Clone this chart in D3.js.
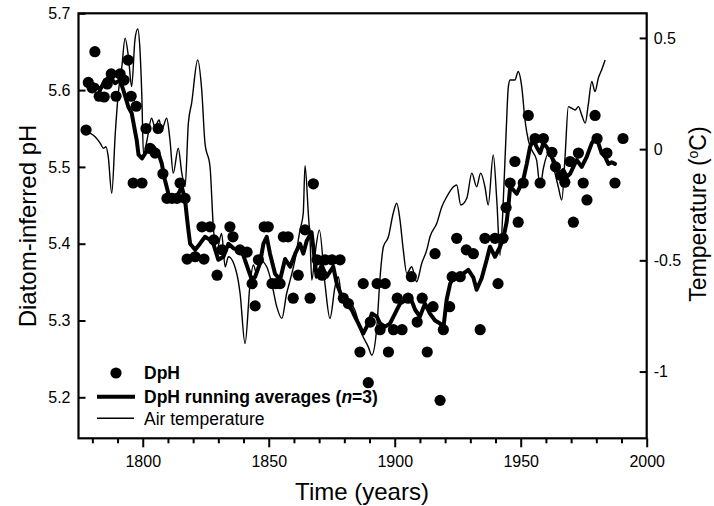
<!DOCTYPE html>
<html>
<head>
<meta charset="utf-8">
<script src="https://cdn.jsdelivr.net/npm/d3@7"></script>
<style>
  html, body { margin: 0; padding: 0; background: #fff; }
  svg { display: block; }
  text { font-family: "Liberation Sans", Arial, Helvetica, sans-serif; fill: #000; }
</style>
</head>
<body>
<svg id="chart" width="714" height="506"></svg>
<script>
// ---------------- DATA ----------------
const dphYears = [1777.5,1778.4,1779.9,1781.0,1782.7,1784.7,1785.9,1787.5,1789.4,1791.0,1792.6,1794.2,1795.4,1796.2,1797.4,1799.7,
  1801.3,1802.9,1804.9,1806.1,1808.0,1809.6,1811.6,1813.6,1814.8,1816.8,1817.6,1820.8,1823.5,1824.3,1826.7,1828.2,1829.5,1831.5,
  1834.6,1835.8,1838.6,1841.4,1843.4,1844.6,1845.9,1848.2,1849.8,1851.3,1852.9,1854.5,1855.8,1857.7,1859.7,1861.7,1864.4,1866.4,
  1867.7,1869.2,1871.2,1872.4,1875.1,1878.3,1879.6,1881.6,1886.2,1887.5,1889.5,1890.3,1893.0,1894.2,1896.2,1897.5,1899.5,1901.0,
  1902.9,1905.3,1906.6,1908.9,1910.9,1912.9,1915.2,1916.0,1918.0,1919.3,1921.8,1922.8,1924.6,1926.0,1928.4,1931.2,1933.9,1935.8,
  1939.8,1941.0,1943.0,1944.2,1945.8,1947.7,1949.0,1951.0,1953.0,1955.7,1957.7,1959.0,1962.4,1963.8,1965.9,1967.5,1969.6,1970.9,
  1972.9,1974.8,1976.3,1979.5,1980.3,1984.2,1987.4,1990.6];
const dphValues = [5.548,5.610,5.603,5.650,5.592,5.591,5.608,5.621,5.592,5.621,5.613,5.639,5.592,5.479,5.579,5.479,
  5.550,5.524,5.518,5.550,5.491,5.459,5.459,5.459,5.479,5.459,5.380,5.383,5.422,5.380,5.422,5.405,5.359,5.392,
  5.422,5.409,5.392,5.389,5.348,5.319,5.379,5.422,5.422,5.348,5.348,5.348,5.409,5.409,5.329,5.359,5.418,5.329,
  5.478,5.379,5.359,5.379,5.379,5.379,5.329,5.322,5.259,5.348,5.219,5.298,5.348,5.288,5.348,5.259,5.288,5.329,
  5.288,5.329,5.357,5.298,5.329,5.259,5.318,5.387,5.196,5.288,5.318,5.357,5.407,5.357,5.392,5.387,5.288,5.407,
  5.407,5.348,5.407,5.447,5.479,5.507,5.428,5.479,5.567,5.537,5.479,5.537,5.519,5.500,5.489,5.480,5.507,5.428,
  5.518,5.479,5.457,5.567,5.537,5.518,5.479,5.537];

const avgYears = [1778.3,1781.7,1783.0,1785.0,1787.0,1789.0,1791.0,1792.3,1794.3,1795.6,1797.6,1798.3,1799.7,1802.2,1804.2,1806.2,
  1807.5,1808.8,1810.2,1811.5,1813.5,1815.5,1816.8,1817.5,1818.1,1818.8,1820.8,1822.7,1824.7,1826.7,1828.0,1830.0,1832.0,1834.0,
  1836.0,1837.9,1839.9,1841.9,1843.3,1844.6,1846.5,1847.9,1849.2,1850.5,1852.5,1854.5,1856.5,1858.5,1860.5,1862.4,1863.7,1865.1,
  1867.0,1869.0,1871.0,1873.0,1875.6,1877.0,1879.0,1881.0,1882.9,1884.2,1885.6,1887.5,1889.5,1890.9,1892.9,1894.2,1896.2,1898.1,
  1900.1,1902.1,1904.1,1906.1,1908.1,1910.0,1912.0,1914.0,1916.0,1918.0,1919.3,1920.6,1922.0,1923.9,1925.9,1927.2,1929.2,1931.2,
  1932.5,1934.5,1936.5,1937.8,1939.8,1941.8,1943.1,1944.4,1945.1,1945.8,1947.1,1948.4,1949.7,1951.0,1952.4,1953.7,1955.0,1956.3,
  1957.7,1959.0,1960.3,1961.6,1962.9,1964.3,1965.6,1966.9,1968.3,1969.6,1970.9,1972.2,1974.2,1976.2,1978.2,1979.5,1980.8,1982.1,
  1983.5,1984.8,1986.1,1987.4];
const avgValues = [5.610,5.606,5.600,5.613,5.617,5.609,5.613,5.600,5.578,5.570,5.535,5.516,5.511,5.524,5.526,5.518,
  5.505,5.483,5.465,5.459,5.461,5.474,5.457,5.435,5.418,5.400,5.392,5.400,5.409,5.405,5.400,5.379,5.383,5.400,
  5.394,5.392,5.385,5.366,5.353,5.357,5.374,5.400,5.409,5.387,5.361,5.353,5.380,5.370,5.387,5.400,5.387,5.404,
  5.415,5.357,5.372,5.357,5.370,5.348,5.331,5.322,5.314,5.305,5.296,5.283,5.296,5.309,5.305,5.296,5.292,5.296,
  5.309,5.322,5.326,5.331,5.314,5.305,5.322,5.309,5.300,5.296,5.290,5.327,5.348,5.359,5.353,5.361,5.366,5.356,
  5.340,5.355,5.379,5.396,5.383,5.396,5.407,5.428,5.448,5.474,5.470,5.465,5.474,5.483,5.504,5.526,5.535,5.526,
  5.518,5.531,5.526,5.518,5.509,5.500,5.491,5.496,5.487,5.491,5.500,5.509,5.500,5.513,5.531,5.537,5.531,5.518,
  5.513,5.504,5.506,5.504];

const tempYears = [1779.1,1781.1,1783.1,1784.4,1785.4,1786.3,1787.7,1789.1,1790.3,1791.7,1793.0,1794.3,1795.6,1796.9,1798.0,1798.9,
  1799.6,1800.3,1801.7,1803.5,1804.8,1806.5,1807.5,1809.5,1810.8,1812.1,1814.1,1815.5,1816.8,1818.1,1819.4,1821.8,1823.4,1824.7,
  1826.7,1828.0,1829.4,1831.3,1832.7,1834.0,1837.3,1838.6,1840.6,1842.6,1843.9,1845.2,1846.5,1849.2,1851.2,1853.2,1855.2,1857.1,
  1858.5,1860.4,1862.4,1863.7,1864.4,1865.7,1866.4,1867.1,1868.4,1870.1,1872.3,1874.3,1876.3,1877.6,1879.0,1881.6,1884.2,1886.9,
  1889.5,1890.9,1892.9,1894.2,1895.5,1897.5,1899.4,1900.8,1902.1,1903.4,1904.8,1906.7,1908.7,1910.7,1912.7,1914.0,1916.7,1918.7,
  1920.8,1923.3,1924.6,1926.2,1928.6,1930.6,1932.5,1934.1,1935.8,1937.1,1939.1,1940.5,1941.8,1943.1,1944.2,1945.1,1945.8,1947.7,
  1949.0,1950.4,1951.7,1953.0,1954.4,1956.3,1957.7,1959.0,1961.0,1962.3,1963.6,1964.9,1966.3,1967.6,1968.9,1970.2,1971.6,1972.9,
  1974.2,1975.6,1976.8,1978.2,1979.5,1980.8,1982.1,1983.5];
const tempValues = [0.072,0.056,0.027,0.004,0.011,-0.034,-0.198,0.072,0.252,0.371,0.499,0.416,0.281,0.491,0.540,0.446,
  0.252,-0.026,0.041,0.139,0.101,0.131,0.086,0.139,0.041,-0.108,0.004,-0.108,-0.169,0.117,0.207,0.401,0.266,0.027,
  -0.079,-0.349,-0.454,-0.379,-0.529,-0.484,-0.559,-0.646,-0.874,-0.604,-0.521,-0.559,-0.499,-0.529,-0.604,-0.709,-0.761,-0.649,
  -0.589,-0.499,-0.364,-0.288,-0.074,-0.288,-0.409,-0.589,-0.469,-0.364,-0.604,-0.761,-0.619,-0.574,-0.664,-0.679,-0.724,-0.829,
  -0.889,-0.926,-0.799,-0.574,-0.439,-0.394,-0.288,-0.243,-0.319,-0.454,-0.559,-0.529,-0.596,-0.514,-0.454,-0.394,-0.333,-0.259,
  -0.211,-0.169,-0.161,-0.251,-0.221,-0.108,-0.169,-0.108,-0.169,-0.251,-0.026,-0.229,-0.477,-0.229,0.072,0.281,0.311,0.311,
  0.349,0.281,0.131,0.041,-0.004,-0.049,-0.169,-0.086,-0.018,-0.049,-0.108,-0.169,-0.229,-0.034,0.191,0.184,0.176,0.191,
  0.154,0.117,0.199,0.304,0.259,0.319,0.356,0.401];

const xMajorTicks = [1800, 1850, 1900, 1950, 2000];
const xMinorTicks = [1780,1790,1810,1820,1830,1840,1860,1870,1880,1890,1910,1920,1930,1940,1960,1970,1980,1990];
const leftTicks = [5.2, 5.3, 5.4, 5.5, 5.6, 5.7];
const rightTicks = [-1, -0.5, 0, 0.5];
const rightTickLabels = ["-1", "-0.5", "0", "0.5"];

// ---------------- CHART ----------------
const svg = d3.select("#chart");
const L = 78.5, R = 646.7, T = 13.3, B = 438.3;

const x = d3.scaleLinear().domain([1774.5, 2000]).range([L, R]);
const yL = d3.scaleLinear().domain([5.1466, 5.7]).range([B, T]);
const yR = d3.scaleLinear().domain([-1.3, 0.6107]).range([B, T]);

const dph = dphYears.map((yr, i) => ({ yr, v: dphValues[i] }));
const avg = avgYears.map((yr, i) => ({ yr, v: avgValues[i] }));
const temp = tempYears.map((yr, i) => ({ yr, v: tempValues[i] }));

// air temperature (thin)
svg.append("path")
  .datum(temp)
  .attr("fill", "none")
  .attr("stroke", "#000")
  .attr("stroke-width", 1.4)
  .attr("stroke-linejoin", "round")
  .attr("d", d3.line().x(d => x(d.yr)).y(d => yR(d.v)).curve(d3.curveMonotoneX));

// DpH dots
svg.append("g").selectAll("circle")
  .data(dph).join("circle")
  .attr("cx", d => x(d.yr))
  .attr("cy", d => yL(d.v))
  .attr("r", 5.6)
  .attr("fill", "#000");

// running average (thick)
svg.append("path")
  .datum(avg)
  .attr("fill", "none")
  .attr("stroke", "#000")
  .attr("stroke-width", 4)
  .attr("stroke-linejoin", "round")
  .attr("stroke-linecap", "round")
  .attr("d", d3.line().x(d => x(d.yr)).y(d => yL(d.v)));

// frame
svg.append("rect")
  .attr("x", L).attr("y", T)
  .attr("width", R - L).attr("height", B - T)
  .attr("fill", "none").attr("stroke", "#000").attr("stroke-width", 2.2);

// axes
const styleAxis = g => {
  g.select(".domain").remove();
  g.selectAll(".tick line").attr("stroke", "#000").attr("stroke-width", 2);
  g.selectAll(".tick text").style("font-size", "16px").attr("fill", "#000");
};

svg.append("g").attr("transform", `translate(0,${B})`)
  .call(d3.axisBottom(x).tickValues(xMinorTicks).tickSize(5).tickFormat(""))
  .call(styleAxis);
svg.append("g").attr("transform", `translate(0,${B})`)
  .call(d3.axisBottom(x).tickValues(xMajorTicks).tickSize(9).tickPadding(8).tickFormat(d3.format("d")))
  .call(styleAxis);

svg.append("g").attr("transform", `translate(${L},0)`)
  .call(d3.axisLeft(yL).tickValues(leftTicks).tickSize(-7).tickPadding(8).tickFormat(d3.format(".1f")))
  .call(styleAxis);

svg.append("g").attr("transform", `translate(${R},0)`)
  .call(d3.axisRight(yR).tickValues(rightTicks).tickSize(-7).tickPadding(7)
    .tickFormat((d, i) => rightTickLabels[i]))
  .call(styleAxis);

// axis titles
svg.append("text")
  .attr("x", 362).attr("y", 500)
  .attr("text-anchor", "middle")
  .style("font-size", "24px")
  .text("Time (years)");

svg.append("text")
  .attr("transform", "translate(36,226) rotate(-90)")
  .attr("text-anchor", "middle")
  .style("font-size", "24px")
  .text("Diatom-inferred pH");

const rt = svg.append("text")
  .attr("transform", "translate(706,214) rotate(-90)")
  .attr("text-anchor", "middle")
  .style("font-size", "23px");
rt.append("tspan").text("Temperature (");
rt.append("tspan").attr("dy", -8).style("font-size", "14px").text("o");
rt.append("tspan").attr("dy", 8).text("C)");

// legend
const lg = svg.append("g");
lg.append("circle").attr("cx", 116).attr("cy", 373).attr("r", 5.6).attr("fill", "#000");
lg.append("text").attr("x", 144).attr("y", 379).style("font-size", "17.5px").style("font-weight", "bold").text("DpH");
lg.append("line").attr("x1", 97).attr("x2", 135).attr("y1", 396.7).attr("y2", 396.7)
  .attr("stroke", "#000").attr("stroke-width", 4);
const lt = lg.append("text").attr("x", 144).attr("y", 403).style("font-size", "17.5px").style("font-weight", "bold");
lt.append("tspan").text("DpH running averages (");
lt.append("tspan").style("font-style", "italic").text("n");
lt.append("tspan").text("=3)");
lg.append("line").attr("x1", 97).attr("x2", 134).attr("y1", 418.3).attr("y2", 418.3)
  .attr("stroke", "#000").attr("stroke-width", 1.4);
lg.append("text").attr("x", 144).attr("y", 424.5).style("font-size", "17.5px").text("Air temperature");
</script>
</body>
</html>
